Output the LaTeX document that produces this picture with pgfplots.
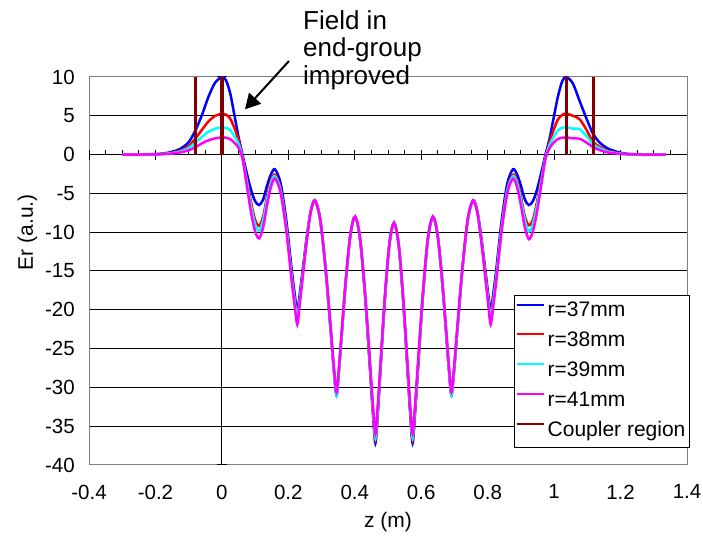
\documentclass[border=0pt]{standalone}
\usepackage{fontspec}
\setmainfont{Liberation Sans}
\usepackage{pgfplots}
\pgfplotsset{compat=1.18}
\usepackage{pgfplotstable}
\usetikzlibrary{arrows.meta}

\definecolor{cR37}{HTML}{0000FF}
\definecolor{cR38}{HTML}{FF0000}
\definecolor{cR39}{HTML}{00FFFF}
\definecolor{cR41}{HTML}{FF00FF}
\definecolor{cCoupler}{HTML}{800000}

% Radial field Er along the structure axis z for four radii
\pgfplotstableread{
x       r37     r38     r39     r41
-0.300  0.00    0.00    0.00    0.00
-0.250  0.01    0.01    0.01    0.01
-0.200  0.06    0.05    0.04    0.03
-0.175  0.15    0.11    0.09    0.06
-0.150  0.35    0.25    0.20    0.14
-0.125  0.75    0.52    0.40    0.28
-0.100  1.60    1.10    0.85    0.55
-0.080  3.10    2.05    1.50    0.95
-0.060  5.10    3.20    2.30    1.45
-0.040  7.50    4.30    2.95    1.85
-0.020  9.30    5.00    3.35    2.10
0.000   10.00   5.25    3.50    2.20
0.012   9.60    5.15    3.45    2.17
0.025   7.90    4.65    3.15    2.00
0.038   5.00    3.40    2.35    1.50
0.050   2.30    1.90    1.40    0.90
0.062   0.00    -0.30   -0.40   -0.50
0.075   -2.40   -3.20   -3.50   -4.00
0.088   -4.60   -6.20   -6.70   -7.50
0.100   -6.00   -8.40   -9.00   -9.90
0.112   -6.50   -9.20   -9.80   -10.80
0.124   -5.80   -8.00   -8.50   -9.40
0.136   -4.00   -5.40   -5.80   -6.50
0.148   -2.50   -3.30   -3.60   -4.10
0.160   -1.90   -2.60   -2.80   -3.10
0.177   -3.74   -4.44   -4.65   -4.98
0.194   -8.52   -9.22   -9.46   -9.87
0.210   -14.78  -15.48  -15.75  -16.26
0.219   -17.91  -18.61  -18.90  -19.46
0.227   -20.30  -21.00  -21.30  -21.90
0.233   -18.43  -19.04  -19.30  -19.82
0.240   -15.98  -16.47  -16.68  -17.10
0.254   -11.08  -11.34  -11.44  -11.66
0.267   -7.34   -7.41   -7.44   -7.50
0.280   -5.90   -5.90   -5.90   -5.90
0.296   -8.41   -8.40   -8.41   -8.37
0.3125  -14.94  -14.90  -14.94  -14.79
0.329   -23.47  -23.40  -23.47  -23.19
0.337   -27.74  -27.65  -27.74  -27.39
0.345   -31.00  -30.90  -31.00  -30.60
0.352   -28.01  -27.92  -28.01  -27.66
0.359   -24.10  -24.03  -24.10  -23.82
0.373   -16.28  -16.24  -16.28  -16.14
0.387   -10.30  -10.29  -10.30  -10.26
0.401   -8.00   -8.00   -8.00   -8.00
0.416   -10.92  -10.88  -10.85  -10.80
0.4315  -18.51  -18.37  -18.26  -18.08
0.447   -28.44  -28.16  -27.95  -27.60
0.4547  -33.40  -33.06  -32.80  -32.36
0.462   -37.20  -36.80  -36.50  -36.00
0.469   -33.51  -33.16  -32.90  -32.46
0.476   -28.68  -28.40  -28.19  -27.84
0.490   -19.02  -18.88  -18.77  -18.59
0.504   -11.64  -11.60  -11.57  -11.52
0.518   -8.80   -8.80   -8.80   -8.80
0.532   -11.64  -11.60  -11.57  -11.52
0.546   -19.02  -18.88  -18.77  -18.59
0.560   -28.68  -28.40  -28.19  -27.84
0.567   -33.51  -33.16  -32.90  -32.46
0.574   -37.20  -36.80  -36.50  -36.00
0.5813  -33.40  -33.06  -32.80  -32.36
0.589   -28.44  -28.16  -27.95  -27.60
0.6045  -18.51  -18.37  -18.26  -18.08
0.620   -10.92  -10.88  -10.85  -10.80
0.635   -8.00   -8.00   -8.00   -8.00
0.649   -10.30  -10.29  -10.30  -10.26
0.663   -16.28  -16.24  -16.28  -16.14
0.677   -24.10  -24.03  -24.10  -23.82
0.684   -28.01  -27.92  -28.01  -27.66
0.691   -31.00  -30.90  -31.00  -30.60
0.699   -27.74  -27.65  -27.74  -27.39
0.707   -23.47  -23.40  -23.47  -23.19
0.7235  -14.94  -14.90  -14.94  -14.79
0.740   -8.41   -8.40   -8.41   -8.37
0.756   -5.90   -5.90   -5.90   -5.90
0.769   -7.34   -7.41   -7.44   -7.50
0.782   -11.08  -11.34  -11.44  -11.66
0.796   -15.98  -16.47  -16.68  -17.10
0.803   -18.43  -19.04  -19.30  -19.82
0.809   -20.30  -21.00  -21.30  -21.90
0.817   -17.91  -18.61  -18.90  -19.46
0.826   -14.78  -15.48  -15.75  -16.26
0.842   -8.52   -9.22   -9.46   -9.87
0.859   -3.74   -4.44   -4.65   -4.98
0.876   -1.90   -2.60   -2.80   -3.10
0.888   -2.50   -3.30   -3.60   -4.10
0.900   -4.00   -5.40   -5.80   -6.50
0.912   -5.80   -8.00   -8.50   -9.40
0.924   -6.50   -9.10   -9.90   -10.90
0.936   -6.00   -8.40   -9.00   -9.90
0.948   -4.60   -6.20   -6.70   -7.50
0.961   -2.40   -3.20   -3.50   -4.00
0.974   0.00    -0.30   -0.40   -0.50
0.986   2.00    1.60    1.20    0.80
0.998   4.60    3.10    2.20    1.50
1.011   7.40    4.50    3.10    2.00
1.024   9.40    5.10    3.45    2.17
1.036   10.00   5.30    3.55    2.22
1.056   9.20    5.00    3.35    2.10
1.076   7.00    4.60    3.30    2.05
1.096   4.80    3.30    2.45    1.60
1.116   2.80    1.70    1.40    1.00
1.136   1.60    1.05    0.85    0.60
1.161   0.80    0.50    0.40    0.28
1.186   0.40    0.25    0.20    0.14
1.211   0.15    0.10    0.08    0.06
1.236   0.05    0.04    0.03    0.02
1.286   0.01    0.01    0.01    0.01
1.336   0.00    0.00    0.00    0.00
}\erdata

\begin{document}
\begin{tikzpicture}
\begin{axis}[
  at={(89pt,75pt)}, anchor=south west,
  scale only axis, width=598pt, height=388pt,
  xmin=-0.4, xmax=1.4, ymin=-40, ymax=10,
  xtick={-0.4,-0.2,0,0.2,0.4,0.6,0.8,1,1.2,1.4},
  xticklabels={-0.4,-0.2,0,0.2,0.4,0.6,0.8,1,1.2,1.4},
  ytick={-40,-35,-30,-25,-20,-15,-10,-5,0,5,10},
  yticklabels={-40,-35,-30,-25,-20,-15,-10,-5,0,5,10},
  tick style={draw=none},
  ymajorgrids,
  major grid style={black, line width=1pt},
  axis line style={gray, line width=1pt},
  tick label style={font=\fontsize{20.5}{24}\selectfont},
  xticklabel style={anchor=north, inner sep=0pt, yshift=-19.5pt},
  yticklabel style={anchor=east, inner sep=0pt, xshift=-14pt},
  xlabel={z (m)}, ylabel={Er (a.u.)},
  label style={font=\fontsize{21}{24}\selectfont},
  xlabel style={at={(axis description cs:0.5,-0.147)}, anchor=center},
  ylabel style={at={(axis description cs:-0.103,0.60)}, anchor=center},
  legend cell align=left,
  legend style={at={(axis description cs:0.711,0.438)}, anchor=north west,
    draw=black, line width=1pt, fill=white,
    font=\fontsize{21}{24}\selectfont,
    inner xsep=1pt, inner ysep=1pt, row sep=0pt,
    nodes={inner xsep=3pt, inner ysep=5.2pt, text height=15pt, text depth=4.5pt}},
  legend image code/.code={\draw[#1, line width=2pt] (0pt,7pt) -- (27pt,7pt);},
]
% axes through the origin with their tick marks
\draw[black, line width=1pt] (axis cs:-0.4,0) -- (axis cs:1.4,0);
\draw[black, line width=1pt] (axis cs:0,-40) -- (axis cs:0,10);
\pgfplotsinvokeforeach{-0.35,-0.3,-0.25,-0.15,-0.1,-0.05,0.05,0.1,0.15,0.25,0.3,0.35,0.45,0.5,0.55,0.65,0.7,0.75,0.85,0.9,0.95,1.05,1.1,1.15,1.25,1.3,1.35}{
  \draw[black, line width=1pt] (axis cs:#1,0) -- ++(0pt,5pt);}
\pgfplotsinvokeforeach{-0.4,-0.2,0.2,0.4,0.6,0.8,1,1.2,1.4}{
  \draw[black, line width=1pt] (axis cs:#1,0) ++(0pt,-5pt) -- ++(0pt,10pt);}
\pgfplotsinvokeforeach{-40,-35,-30,-25,-20,-15,-10,-5,0,5,10}{
  \draw[black, line width=1pt] (axis cs:0,#1) ++(-5pt,0pt) -- ++(10pt,0pt);}

\addplot[cR37, line width=2.5pt, smooth, tension=0.5] table[x=x, y=r37] {\erdata};
\addlegendentry{r=37mm}
\addplot[cR38, line width=2.5pt, smooth, tension=0.5] table[x=x, y=r38] {\erdata};
\addlegendentry{r=38mm}
\addplot[cR39, line width=2.5pt, smooth, tension=0.5] table[x=x, y=r39] {\erdata};
\addlegendentry{r=39mm}
\addplot[cR41, line width=2.5pt, smooth, tension=0.5] table[x=x, y=r41] {\erdata};
\addlegendentry{r=41mm}
% coupler region boundaries at both ends
\addplot[cCoupler, line width=3.5pt] coordinates {(-0.08,0) (-0.08,10)};
\addlegendentry{Coupler region}
\addplot[cCoupler, line width=3.5pt, forget plot] coordinates {(0,0) (0,10)};
\addplot[cCoupler, line width=3.5pt, forget plot] coordinates {(1.038,0) (1.038,10)};
\addplot[cCoupler, line width=3.5pt, forget plot] coordinates {(1.118,0) (1.118,10)};
\end{axis}

\node[anchor=north west, inner sep=0pt, align=left,
      font=\fontsize{26}{27.5}\selectfont] at (303pt,530pt)
      {Field in\\end-group\\improved};
\draw[-{Triangle[length=15pt,width=16pt]}, line width=2pt]
      (289pt,479pt) -- (245pt,430.7pt);

\pgfresetboundingbox
\path[use as bounding box] (0pt,0pt) rectangle (703pt,540pt);
\end{tikzpicture}
\end{document}
